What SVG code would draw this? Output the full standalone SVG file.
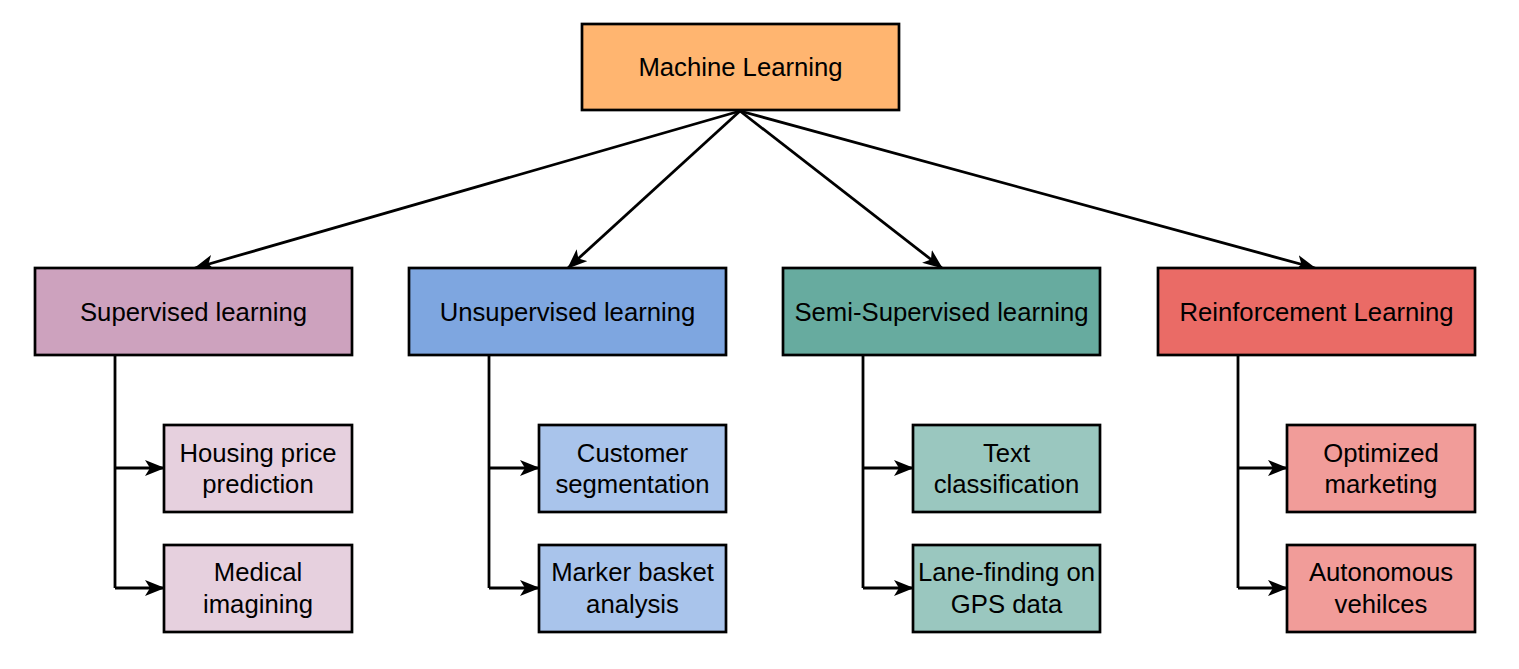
<svg xmlns="http://www.w3.org/2000/svg" width="1519" height="669" viewBox="0 0 1519 669">
<style>
.box{stroke:#000;stroke-width:2.7}
.t{font-family:"Liberation Sans",Arial,sans-serif;font-size:25.7px;fill:#000;text-anchor:middle}
.c{fill:none;stroke:#000;stroke-width:2.8}
</style>
<defs>
<marker id="ah" viewBox="0 0 20 16" refX="19" refY="8" markerWidth="20" markerHeight="16" markerUnits="userSpaceOnUse" orient="auto">
<path d="M0,0 L20,8 L0,16 L5,8 Z" fill="#000"/>
</marker>
</defs>
<rect width="1519" height="669" fill="#fff"/>
<g id="connectors">
<path class="c" marker-end="url(#ah)" d="M740,111 L195,268"/>
<path class="c" marker-end="url(#ah)" d="M740,111 L568,268"/>
<path class="c" marker-end="url(#ah)" d="M740,111 L942,268"/>
<path class="c" marker-end="url(#ah)" d="M740,111 L1315,268"/>
<path class="c" d="M115,355 L115,588"/>
<path class="c" marker-end="url(#ah)" d="M115,468 L164,468"/>
<path class="c" marker-end="url(#ah)" d="M115,588 L164,588"/>
<path class="c" d="M489,355 L489,588"/>
<path class="c" marker-end="url(#ah)" d="M489,468 L539,468"/>
<path class="c" marker-end="url(#ah)" d="M489,588 L539,588"/>
<path class="c" d="M863,355 L863,588"/>
<path class="c" marker-end="url(#ah)" d="M863,468 L913,468"/>
<path class="c" marker-end="url(#ah)" d="M863,588 L913,588"/>
<path class="c" d="M1238,355 L1238,588"/>
<path class="c" marker-end="url(#ah)" d="M1238,468 L1287,468"/>
<path class="c" marker-end="url(#ah)" d="M1238,588 L1287,588"/>
</g>
<g id="ml"><rect class="box" x="582" y="24" width="317" height="86" fill="#FFB570"/><text class="t" x="740.5" y="76">Machine Learning</text></g>
<g id="supervised"><rect class="box" x="35" y="268" width="317" height="87" fill="#CDA2BE"/><text class="t" x="193.5" y="321">Supervised learning</text></g>
<g id="unsupervised"><rect class="box" x="409" y="268" width="317" height="87" fill="#7EA6E0"/><text class="t" x="567.5" y="321">Unsupervised learning</text></g>
<g id="semi"><rect class="box" x="783" y="268" width="317" height="87" fill="#67AB9F"/><text class="t" x="941.5" y="321">Semi-Supervised learning</text></g>
<g id="reinforcement"><rect class="box" x="1158" y="268" width="317" height="87" fill="#EA6B66"/><text class="t" x="1316.5" y="321">Reinforcement Learning</text></g>
<g id="housing"><rect class="box" x="164" y="425" width="188" height="87" fill="#E6D0DE"/><text class="t" x="258" y="462">Housing price</text><text class="t" x="258" y="493">prediction</text></g>
<g id="medical"><rect class="box" x="164" y="545" width="188" height="87" fill="#E6D0DE"/><text class="t" x="258" y="581">Medical</text><text class="t" x="258" y="613">imagining</text></g>
<g id="customer"><rect class="box" x="539" y="425" width="187" height="87" fill="#A9C4EB"/><text class="t" x="632.5" y="462">Customer</text><text class="t" x="632.5" y="493">segmentation</text></g>
<g id="basket"><rect class="box" x="539" y="545" width="187" height="87" fill="#A9C4EB"/><text class="t" x="632.5" y="581">Marker basket</text><text class="t" x="632.5" y="613">analysis</text></g>
<g id="text"><rect class="box" x="913" y="425" width="187" height="87" fill="#9AC7BF"/><text class="t" x="1006.5" y="462">Text</text><text class="t" x="1006.5" y="493">classification</text></g>
<g id="lane"><rect class="box" x="913" y="545" width="187" height="87" fill="#9AC7BF"/><text class="t" x="1006.5" y="581">Lane-finding on</text><text class="t" x="1006.5" y="613">GPS data</text></g>
<g id="marketing"><rect class="box" x="1287" y="425" width="188" height="87" fill="#F19C99"/><text class="t" x="1381" y="462">Optimized</text><text class="t" x="1381" y="493">marketing</text></g>
<g id="autonomous"><rect class="box" x="1287" y="545" width="188" height="87" fill="#F19C99"/><text class="t" x="1381" y="581">Autonomous</text><text class="t" x="1381" y="613">vehilces</text></g>
</svg>
